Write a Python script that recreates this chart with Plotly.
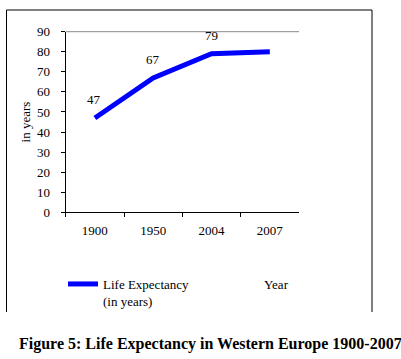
import plotly.graph_objects as go

years = ["1900", "1950", "2004", "2007"]
life_exp = [47, 67, 79, 80]
point_labels = ["47", "67", "79", ""]
y_ticks = [0, 10, 20, 30, 40, 50, 60, 70, 80, 90]

W, H = 401, 359
def px(x): return x / W
def py(y): return (H - y) / H

FONT = "Liberation Serif, Times New Roman, serif"

fig = go.Figure()
fig.add_trace(go.Scatter(
    x=years, y=life_exp, mode="lines",
    line=dict(color="#0000FF", width=5),
    name="Life Expectancy<br>(in years)",
    showlegend=True,
))

annotations = []
for i, (v, lab) in enumerate(zip(life_exp, point_labels)):
    if lab:
        annotations.append(dict(x=i, y=v, xref="x", yref="y", text=lab, showarrow=False,
                                yshift=18, xshift=-0.5, font=dict(family=FONT, size=13, color="black")))

annotations.append(dict(x=px(261.5), y=py(284), xref="paper", yref="paper", text="Year",
                        showarrow=False, xanchor="left", yanchor="middle",
                        font=dict(family=FONT, size=13, color="black")))
annotations.append(dict(x=px(17), y=py(344), xref="paper", yref="paper",
                        text="<b>Figure 5: Life Expectancy in Western Europe 1900-2007</b>",
                        showarrow=False, xanchor="left", yanchor="middle",
                        font=dict(family=FONT, size=16, color="black")))

x0d, x1d = px(65.7), px(299)
y0d, y1d = py(212.3), py(31.7)

shapes = [
    dict(type="line", xref="paper", yref="paper", x0=px(6.5), x1=px(6.5), y0=py(312), y1=py(10), line=dict(color="black", width=1)),
    dict(type="line", xref="paper", yref="paper", x0=px(6.5), x1=px(372), y0=py(10), y1=py(10), line=dict(color="black", width=1)),
    dict(type="line", xref="paper", yref="paper", x0=px(372), x1=px(372), y0=py(10), y1=py(312), line=dict(color="black", width=1)),
    dict(type="line", xref="paper", yref="paper", x0=x0d, x1=x1d, y0=y1d, y1=y1d, line=dict(color="#888888", width=1)),
]

fig.update_layout(
    width=W, height=H,
    margin=dict(l=0, r=0, t=0, b=0, autoexpand=False),
    paper_bgcolor="white", plot_bgcolor="white",
    font=dict(family=FONT, size=13, color="black"),
    xaxis=dict(domain=[x0d, x1d], type="category", tickson="boundaries",
               ticks="outside", ticklen=4, tickcolor="black", showline=True, linecolor="black",
               showgrid=False, zeroline=False, range=[-0.5, 3.5], ticklabelstandoff=6,
               automargin=False,
               tickfont=dict(family=FONT, size=13, color="black")),
    yaxis=dict(domain=[y0d, y1d], range=[0, 90], tickvals=y_ticks,
               ticks="outside", ticklen=4, tickcolor="black", showline=True, linecolor="black",
               showgrid=False, zeroline=False, ticklabelstandoff=8, automargin=False,
               tickfont=dict(family=FONT, size=13, color="black"),
               title=dict(text="in years", font=dict(family=FONT, size=13, color="black"), standoff=3)),
    legend=dict(x=px(63), y=py(269), xanchor="left", yanchor="top", valign="top",
                font=dict(family=FONT, size=13, color="black"),
                bgcolor="rgba(0,0,0,0)", borderwidth=0, itemwidth=30),
    annotations=annotations,
    shapes=shapes,
)

fig.write_html("out.html", config={"displayModeBar": False},
               post_script="document.body.style.margin='0px';")
